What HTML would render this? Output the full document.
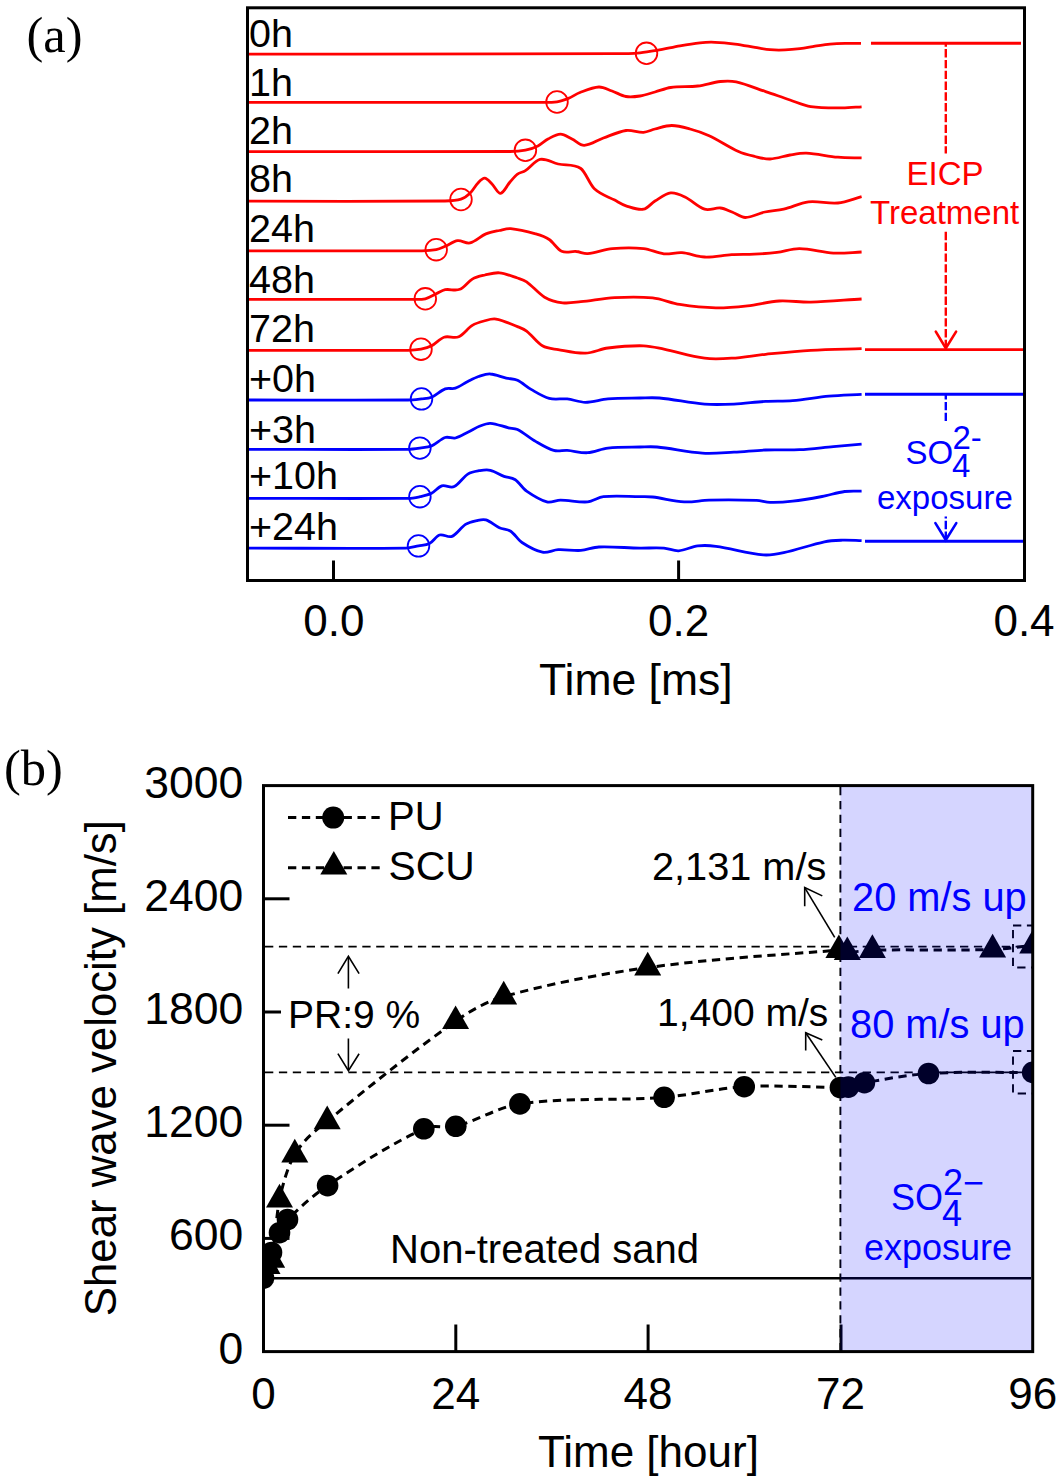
<!DOCTYPE html>
<html><head><meta charset="utf-8"><style>
html,body{margin:0;padding:0;background:#fff;}
svg{display:block;}
text{font-family:"Liberation Sans",sans-serif;}
.serif{font-family:"Liberation Serif",serif;}
</style></head><body>
<svg width="1062" height="1483" viewBox="0 0 1062 1483">
<rect width="1062" height="1483" fill="#fff"/>

<text class="serif" x="26.5" y="52" font-size="50.5">(a)</text>
<g fill="none" stroke-width="2.8" stroke-linejoin="round" stroke-linecap="butt">
<path stroke="#ff0000" d="M249.0 54.1 C371.0 54.0 493.0 54.1 615.0 53.7 C623.3 53.7 631.7 53.5 640.0 52.8 C645.7 52.4 651.3 51.4 657.0 50.4 C664.7 49.1 672.3 47.2 680.0 45.8 C686.7 44.6 693.3 43.5 700.0 42.8 C705.0 42.3 710.0 42.1 715.0 42.3 C721.7 42.5 728.3 43.2 735.0 44.1 C741.7 45.0 748.3 46.3 755.0 47.4 C760.0 48.2 765.0 49.3 770.0 49.7 C775.0 50.1 780.0 50.1 785.0 49.9 C790.0 49.7 795.0 49.2 800.0 48.6 C805.0 48.0 810.0 46.9 815.0 46.1 C820.0 45.4 825.0 44.6 830.0 44.1 C835.0 43.6 840.0 43.4 845.0 43.3 C850.3 43.2 855.7 43.4 861.0 43.4"/>
<path stroke="#ff0000" d="M249.0 102.3 C346.0 102.3 443.0 102.6 540.0 102.4 C545.7 102.4 551.3 102.6 557.0 101.8 C560.8 101.3 564.6 99.9 568.4 98.4 C572.3 96.8 576.1 93.9 580.0 92.5 C586.3 90.1 592.6 87.3 598.9 87.0 C603.3 86.8 607.6 89.5 612.0 91.0 C616.7 92.6 621.3 95.7 626.0 96.5 C630.7 97.3 635.3 96.7 640.0 96.0 C645.0 95.2 650.0 93.4 655.0 92.0 C660.2 90.6 665.5 88.2 670.7 87.5 C679.7 86.2 688.8 87.1 697.8 86.0 C705.3 85.1 712.9 82.3 720.4 81.5 C725.7 80.9 730.9 80.7 736.2 81.9 C746.0 84.1 755.8 88.3 765.6 91.6 C773.7 94.3 781.9 97.3 790.0 100.0 C796.9 102.3 803.9 105.6 810.8 106.6 C821.3 108.2 831.9 107.9 842.4 107.9 C848.8 107.9 855.2 107.2 861.6 106.8"/>
<path stroke="#ff0000" d="M249.0 151.6 C336.0 151.6 423.0 151.9 510.0 151.5 C515.1 151.5 520.3 151.2 525.4 150.2 C529.6 149.4 533.7 148.0 537.9 145.9 C541.3 144.2 544.6 140.8 548.0 139.0 C552.2 136.8 556.3 134.1 560.5 134.1 C564.3 134.1 568.2 137.2 572.0 139.0 C576.1 140.9 580.1 145.5 584.2 145.4 C590.6 145.2 597.0 140.3 603.4 138.0 C610.9 135.3 618.5 131.6 626.0 130.5 C631.9 129.7 637.7 132.6 643.6 132.3 C647.4 132.1 651.2 129.9 655.0 129.0 C660.6 127.6 666.2 125.5 671.8 125.5 C677.9 125.5 683.9 127.3 690.0 129.0 C696.4 130.7 702.7 132.7 709.1 135.7 C718.9 140.2 728.7 147.1 738.5 151.5 C744.0 154.0 749.5 155.2 755.0 156.5 C760.0 157.7 765.1 159.2 770.1 159.0 C776.7 158.7 783.4 156.1 790.0 155.0 C795.4 154.1 800.9 152.9 806.3 153.1 C816.8 153.6 827.4 156.3 837.9 157.2 C845.8 157.9 853.7 157.7 861.6 157.9"/>
<path stroke="#ff0000" d="M249.0 201.2 C314.3 201.1 379.7 201.6 445.0 201.0 C450.3 200.9 455.7 200.8 461.0 199.2 C464.0 198.3 467.0 196.2 470.0 193.3 C472.7 190.8 475.3 185.7 478.0 183.0 C480.2 180.7 482.5 178.0 484.7 178.2 C487.1 178.4 489.6 181.7 492.0 184.0 C494.9 186.7 497.7 193.6 500.6 193.3 C503.7 193.0 506.9 185.6 510.0 182.0 C512.5 179.2 515.0 175.9 517.5 174.1 C520.1 172.2 522.8 172.4 525.4 170.7 C530.3 167.5 535.2 160.4 540.1 159.4 C546.1 158.2 552.2 162.7 558.2 164.0 C565.7 165.7 573.3 163.3 580.8 168.5 C585.3 171.6 589.9 184.6 594.4 188.8 C601.2 195.1 607.9 196.5 614.7 200.1 C618.5 202.1 622.2 204.6 626.0 205.8 C631.9 207.6 637.7 210.2 643.6 209.2 C647.4 208.6 651.2 203.3 655.0 201.0 C660.2 197.9 665.5 193.6 670.7 192.9 C675.5 192.3 680.2 194.7 685.0 197.0 C691.5 200.1 698.1 207.2 704.6 209.2 C709.9 210.8 715.1 207.5 720.4 208.0 C724.3 208.4 728.1 210.5 732.0 212.0 C736.4 213.7 740.9 217.5 745.3 217.5 C751.9 217.5 758.4 213.4 765.0 212.0 C771.2 210.7 777.5 210.6 783.7 209.2 C792.0 207.3 800.2 202.8 808.5 201.9 C818.3 200.8 828.1 204.0 837.9 203.0 C845.8 202.2 853.7 198.8 861.6 196.7"/>
<path stroke="#ff0000" d="M249.0 250.8 C306.7 250.8 364.3 251.1 422.0 250.8 C426.7 250.8 431.5 250.6 436.2 249.7 C439.2 249.1 442.2 247.6 445.2 246.3 C449.3 244.6 453.5 241.3 457.6 240.7 C461.7 240.1 465.9 243.9 470.0 242.9 C475.3 241.6 480.6 236.1 485.9 233.9 C490.4 232.0 494.9 231.4 499.4 230.5 C503.2 229.7 506.9 228.3 510.7 228.7 C519.0 229.5 527.3 231.6 535.6 233.9 C540.1 235.2 544.7 236.5 549.2 239.5 C553.3 242.3 557.5 249.4 561.6 251.2 C566.5 253.4 571.4 251.0 576.3 251.5 C580.1 251.8 583.8 253.9 587.6 253.6 C595.9 252.9 604.1 249.3 612.4 248.6 C622.8 247.7 633.2 247.5 643.6 248.6 C650.4 249.3 657.1 253.1 663.9 253.8 C669.9 254.4 676.0 252.2 682.0 252.7 C689.5 253.3 697.1 256.7 704.6 257.0 C713.6 257.4 722.7 255.2 731.7 254.7 C739.2 254.3 746.8 254.6 754.3 254.2 C761.8 253.8 769.4 253.3 776.9 252.4 C784.4 251.5 792.0 248.5 799.5 248.6 C810.8 248.7 822.1 252.5 833.4 253.1 C842.8 253.6 852.2 252.4 861.6 252.0"/>
<path stroke="#ff0000" d="M249.0 299.4 C303.3 299.4 357.7 299.6 412.0 299.4 C416.4 299.4 420.9 299.8 425.3 298.8 C428.9 298.0 432.6 295.5 436.2 293.8 C439.2 292.4 442.2 290.3 445.2 289.7 C450.1 288.8 455.0 291.2 459.9 289.3 C464.0 287.7 468.2 281.5 472.3 279.1 C476.5 276.7 480.8 276.0 485.0 275.0 C489.8 273.9 494.6 272.4 499.4 272.8 C505.4 273.4 511.5 276.0 517.5 278.0 C520.5 279.0 523.6 279.7 526.6 281.8 C532.6 286.1 538.6 293.7 544.6 297.2 C550.6 300.7 556.7 302.1 562.7 302.8 C568.7 303.6 574.8 302.3 580.8 301.7 C592.1 300.6 603.4 298.2 614.7 297.6 C627.3 296.9 640.0 296.6 652.6 297.9 C661.6 298.8 670.7 303.0 679.7 304.4 C691.8 306.3 703.8 307.6 715.9 307.8 C726.4 308.0 737.0 306.9 747.5 305.8 C758.1 304.7 768.6 301.6 779.2 301.0 C789.7 300.4 800.3 302.4 810.8 302.1 C827.7 301.7 844.7 300.0 861.6 299.0"/>
<path stroke="#ff0000" d="M249.0 350.3 C302.0 350.3 355.0 350.6 408.0 350.3 C412.3 350.3 416.7 350.0 421.0 349.2 C424.5 348.5 428.1 347.6 431.6 345.8 C435.7 343.6 439.9 338.6 444.0 337.2 C448.9 335.5 453.9 338.8 458.8 336.7 C463.3 334.8 467.8 328.2 472.3 325.4 C476.2 323.0 480.1 322.0 484.0 321.0 C488.0 319.9 492.0 318.4 496.0 319.1 C503.2 320.3 510.3 323.8 517.5 326.6 C520.5 327.8 523.6 328.8 526.6 331.1 C531.9 335.2 537.1 342.7 542.4 345.8 C547.7 348.9 552.9 348.7 558.2 349.6 C567.2 351.2 576.3 353.5 585.3 353.2 C592.8 353.0 600.4 349.0 607.9 348.0 C619.8 346.5 631.7 345.5 643.6 345.8 C650.4 345.9 657.1 347.8 663.9 349.2 C677.5 352.0 691.0 356.4 704.6 358.2 C713.6 359.4 722.7 358.8 731.7 358.2 C743.0 357.5 754.3 355.4 765.6 354.3 C780.7 352.8 795.7 351.2 810.8 350.3 C827.7 349.3 844.7 349.2 861.6 348.7"/>
<path stroke="#0000ff" d="M249.0 400.0 C302.0 400.0 355.0 400.3 408.0 400.0 C412.5 400.0 417.0 399.4 421.5 398.9 C424.9 398.5 428.2 398.7 431.6 397.3 C436.1 395.4 440.7 390.6 445.2 388.9 C448.6 387.6 452.0 389.3 455.4 388.2 C459.5 386.8 463.7 383.6 467.8 381.5 C471.6 379.6 475.3 377.6 479.1 376.3 C482.9 375.1 486.6 373.7 490.4 374.0 C495.7 374.3 500.9 376.9 506.2 378.1 C510.0 379.0 513.7 378.6 517.5 380.3 C522.0 382.4 526.6 386.8 531.1 389.4 C537.1 392.8 543.2 396.8 549.2 398.4 C555.2 400.0 561.2 398.3 567.2 398.9 C573.2 399.6 579.3 402.3 585.3 402.3 C592.8 402.3 600.4 399.5 607.9 398.9 C618.6 398.1 629.3 398.2 640.0 398.0 C646.5 397.9 652.9 397.4 659.4 398.0 C674.5 399.4 689.5 402.9 704.6 404.1 C714.4 404.9 724.2 404.5 734.0 404.1 C744.5 403.6 755.1 402.0 765.6 401.4 C774.6 400.9 783.7 401.4 792.7 400.7 C804.8 399.7 816.8 397.3 828.9 396.2 C839.8 395.2 850.7 395.0 861.6 394.4"/>
<path stroke="#0000ff" d="M249.0 449.3 C302.0 449.3 355.0 449.7 408.0 449.3 C412.0 449.3 415.9 448.7 419.9 448.1 C423.8 447.5 427.7 447.5 431.6 445.9 C436.1 444.0 440.7 439.0 445.2 437.5 C448.6 436.4 452.0 438.8 455.4 438.0 C459.5 437.0 463.7 434.3 467.8 432.3 C471.9 430.3 475.9 427.6 480.0 426.0 C483.5 424.6 486.9 423.1 490.4 423.3 C496.4 423.7 502.5 426.4 508.5 427.8 C511.5 428.5 514.5 428.1 517.5 429.6 C523.5 432.6 529.6 437.9 535.6 441.4 C541.6 444.9 547.7 448.7 553.7 450.4 C558.2 451.7 562.7 450.1 567.2 450.4 C574.0 450.9 580.8 453.1 587.6 452.7 C594.4 452.3 601.1 448.8 607.9 448.1 C618.6 446.9 629.3 447.2 640.0 447.0 C645.7 446.9 651.4 446.4 657.1 447.0 C672.2 448.5 687.2 452.1 702.3 453.1 C712.9 453.8 723.4 452.7 734.0 452.2 C744.5 451.7 755.1 450.4 765.6 450.0 C776.9 449.6 788.2 450.3 799.5 449.7 C810.8 449.1 822.1 447.6 833.4 446.6 C842.8 445.8 852.2 444.9 861.6 444.1"/>
<path stroke="#0000ff" d="M249.0 498.3 C302.0 498.3 355.0 498.8 408.0 498.3 C412.0 498.3 415.9 497.5 419.9 496.7 C423.8 495.9 427.7 495.2 431.6 493.3 C435.0 491.6 438.4 486.9 441.8 485.9 C445.9 484.7 450.1 488.5 454.2 486.6 C458.7 484.5 463.3 477.0 467.8 474.1 C471.6 471.7 475.3 471.3 479.1 470.7 C482.9 470.1 486.6 469.4 490.4 470.3 C494.9 471.3 499.5 474.7 504.0 476.4 C507.8 477.8 511.5 477.4 515.3 479.8 C519.1 482.3 522.8 488.5 526.6 491.1 C533.4 495.8 540.1 500.1 546.9 501.9 C551.4 503.1 556.0 500.1 560.5 500.1 C569.5 500.1 578.6 502.6 587.6 501.9 C592.9 501.5 598.1 497.2 603.4 496.7 C615.6 495.5 627.8 496.6 640.0 496.7 C644.2 496.7 648.4 496.5 652.6 497.0 C663.1 498.2 673.7 501.3 684.2 501.9 C692.5 502.4 700.8 500.3 709.1 500.1 C724.9 499.8 740.8 499.8 756.6 500.4 C761.1 500.6 765.6 502.3 770.1 502.4 C777.6 502.6 785.2 502.1 792.7 501.2 C802.5 500.1 812.3 498.3 822.1 496.5 C829.6 495.1 837.2 492.5 844.7 491.5 C850.3 490.7 856.0 491.2 861.6 491.1"/>
<path stroke="#0000ff" d="M249.0 548.1 C301.3 548.1 353.7 548.8 406.0 548.1 C410.2 548.0 414.3 546.7 418.5 545.9 C422.1 545.2 425.8 545.5 429.4 543.6 C432.8 541.9 436.1 536.1 439.5 535.0 C443.7 533.7 447.8 538.1 452.0 536.4 C456.5 534.6 461.0 527.3 465.5 524.4 C469.3 522.0 473.0 521.4 476.8 520.6 C479.8 519.9 482.9 518.9 485.9 519.9 C490.4 521.3 494.9 525.7 499.4 527.8 C503.2 529.5 506.9 528.8 510.7 531.2 C514.5 533.7 518.2 540.0 522.0 542.5 C528.8 547.0 535.6 550.8 542.4 552.2 C547.7 553.2 552.9 549.9 558.2 549.7 C565.7 549.3 573.3 550.9 580.8 550.4 C586.8 550.0 592.9 547.2 598.9 547.0 C612.6 546.5 626.3 547.9 640.0 548.1 C648.0 548.2 655.9 547.5 663.9 548.1 C668.8 548.4 673.7 551.1 678.6 550.8 C685.0 550.4 691.4 546.7 697.8 545.9 C703.8 545.2 709.9 545.5 715.9 546.3 C731.7 548.5 747.5 553.4 763.3 554.9 C770.1 555.5 776.9 554.2 783.7 552.7 C797.3 549.8 810.8 544.7 824.4 541.8 C830.4 540.5 836.4 540.4 842.4 540.2 C848.8 540.0 855.2 540.5 861.6 540.7"/>
</g>
<g fill="none" stroke-width="1.8">
<circle cx="646.5" cy="53.3" r="10.8" stroke="#ff0000"/>
<circle cx="557.0" cy="102.0" r="10.8" stroke="#ff0000"/>
<circle cx="525.4" cy="150.3" r="10.8" stroke="#ff0000"/>
<circle cx="461.0" cy="199.5" r="10.8" stroke="#ff0000"/>
<circle cx="436.2" cy="249.7" r="10.8" stroke="#ff0000"/>
<circle cx="425.3" cy="298.8" r="10.8" stroke="#ff0000"/>
<circle cx="421.0" cy="349.2" r="10.8" stroke="#ff0000"/>
<circle cx="421.5" cy="398.9" r="10.8" stroke="#0000ff"/>
<circle cx="419.9" cy="448.1" r="10.8" stroke="#0000ff"/>
<circle cx="419.9" cy="496.7" r="10.8" stroke="#0000ff"/>
<circle cx="418.5" cy="545.9" r="10.8" stroke="#0000ff"/>
</g>
<g stroke-width="2.9">
<line x1="871" y1="43.2" x2="1021" y2="43.2" stroke="#ff0000"/>
<line x1="865" y1="349.6" x2="1024" y2="349.6" stroke="#ff0000"/>
<line x1="865" y1="394.2" x2="1024" y2="394.2" stroke="#0000ff"/>
<line x1="865" y1="541.2" x2="1024" y2="541.2" stroke="#0000ff"/>
</g>
<g stroke-width="2.4" fill="none" stroke-linecap="butt">
<line x1="945.8" y1="42" x2="945.8" y2="153.5" stroke="#ff0000" stroke-dasharray="8.4 2.4" stroke-dashoffset="3.7"/>
<line x1="945.8" y1="231.8" x2="945.8" y2="347" stroke="#ff0000" stroke-dasharray="8.4 2.4"/>
<polyline points="935.8,331.6 945.8,348.2 956.1,331.6" stroke="#ff0000" stroke-width="2.6" stroke-linecap="round"/>
<line x1="945.8" y1="393.5" x2="945.8" y2="421.4" stroke="#0000ff" stroke-dasharray="8.4 2.4" stroke-dashoffset="2.4"/>
<line x1="945.8" y1="516.5" x2="945.8" y2="539.5" stroke="#0000ff" stroke-dasharray="8.4 2.4" stroke-dashoffset="6.5"/>
<polyline points="935.4,523.1 945.8,540 956.3,523.1" stroke="#0000ff" stroke-width="2.6" stroke-linecap="round"/>
</g>
<text x="906.5" y="185" font-size="33" fill="#ff0000">EICP</text>
<text x="870" y="223.6" font-size="33" fill="#ff0000">Treatment</text>
<text x="905.5" y="463.6" font-size="33" fill="#0000ff">SO</text>
<text x="952.5" y="448.8" font-size="33" fill="#0000ff">2-</text>
<text x="952" y="476.8" font-size="33" fill="#0000ff">4</text>
<text x="877" y="508.9" font-size="33" fill="#0000ff">exposure</text>
<text x="249" y="47.1" font-size="39.5">0h</text>
<text x="249" y="96.1" font-size="39.5">1h</text>
<text x="249" y="144.3" font-size="39.5">2h</text>
<text x="249" y="192.0" font-size="39.5">8h</text>
<text x="249" y="241.9" font-size="39.5">24h</text>
<text x="249" y="292.7" font-size="39.5">48h</text>
<text x="249" y="341.7" font-size="39.5">72h</text>
<text x="249" y="392.1" font-size="39.5">+0h</text>
<text x="249" y="442.5" font-size="39.5">+3h</text>
<text x="249" y="489.2" font-size="39.5">+10h</text>
<text x="249" y="540.4" font-size="39.5">+24h</text>
<rect x="247.5" y="7.8" width="777" height="572.7" fill="none" stroke="#000" stroke-width="3"/>
<g stroke="#000" stroke-width="3">
<line x1="333.5" y1="579" x2="333.5" y2="560.5"/>
<line x1="678.6" y1="579" x2="678.6" y2="560.5"/>
</g>
<text x="333.8" y="635.6" font-size="44" text-anchor="middle">0.0</text>
<text x="678.6" y="635.6" font-size="44" text-anchor="middle">0.2</text>
<text x="1024" y="635.6" font-size="44" text-anchor="middle">0.4</text>
<text x="539" y="695.1" font-size="44.5">Time [ms]</text>
<text class="serif" x="4" y="785.2" font-size="50.5">(b)</text>
<g stroke="#000" stroke-width="1.9" stroke-dasharray="8.3 5.6" fill="none">
<line x1="265" y1="946.6" x2="1031" y2="946.6"/>
<line x1="265" y1="1072.4" x2="1031" y2="1072.4"/>
<line x1="840.4" y1="787" x2="840.4" y2="1350"/>
<rect x="1013" y="925.5" width="20" height="42" />
<rect x="1013" y="1051" width="20" height="42.5" />
</g>
<line x1="265" y1="1278.2" x2="1031" y2="1278.2" stroke="#000" stroke-width="2.6"/>
<defs><clipPath id="clipb"><rect x="263.5" y="785.6" width="769.2" height="566"/></clipPath></defs>
<g clip-path="url(#clipb)">
<g fill="none" stroke="#000" stroke-width="3" stroke-dasharray="8.3 5.6">
<path d="M263.5 1278.0 C266.2 1269.5 268.8 1260.1 271.5 1252.5 C274.2 1245.0 276.9 1238.2 279.5 1232.7 C282.2 1227.2 284.9 1222.2 287.5 1219.5 C300.9 1206.4 314.2 1194.5 327.6 1185.6 C359.7 1164.2 391.7 1143.6 423.8 1128.8 C434.4 1123.8 445.1 1129.1 455.8 1126.3 C477.2 1120.8 498.5 1106.9 519.9 1103.9 C568.0 1097.2 616.0 1101.0 664.1 1097.3 C690.8 1095.2 717.5 1088.2 744.2 1086.7 C776.3 1084.9 808.4 1087.3 840.4 1087.5 C843.1 1087.5 845.7 1087.6 848.4 1087.1 C853.8 1086.0 859.1 1083.7 864.4 1082.7 C885.8 1079.1 907.2 1074.8 928.5 1073.5 C963.3 1071.4 998.0 1072.7 1032.7 1072.4"/>
<path d="M264.5 1262.0 C265.3 1263.3 266.2 1266.3 267.0 1266.0 C268.6 1265.5 270.1 1268.1 271.7 1259.8 C274.3 1246.0 276.9 1211.4 279.5 1199.5 C284.6 1176.3 289.7 1162.9 294.8 1154.5 C305.6 1136.8 316.4 1130.3 327.2 1121.3 C370.0 1085.8 412.8 1051.4 455.6 1021.2 C471.6 1009.9 487.7 1001.1 503.7 996.6 C551.7 983.2 599.7 974.2 647.7 967.6 C711.4 958.8 775.2 955.1 838.9 950.2 C841.7 950.0 844.5 952.2 847.3 952.2 C855.7 952.2 864.0 950.3 872.4 950.1 C912.5 949.4 952.5 950.6 992.6 949.5 C1006.0 949.1 1019.3 946.8 1032.7 945.5"/>
</g>
<g fill="#000">
<circle cx="263.5" cy="1278.0" r="10.8"/>
<circle cx="271.5" cy="1252.5" r="10.8"/>
<circle cx="279.5" cy="1232.7" r="10.8"/>
<circle cx="287.5" cy="1219.5" r="10.8"/>
<circle cx="327.6" cy="1185.6" r="10.8"/>
<circle cx="423.8" cy="1128.8" r="10.8"/>
<circle cx="455.8" cy="1126.3" r="10.8"/>
<circle cx="519.9" cy="1103.9" r="10.8"/>
<circle cx="664.1" cy="1097.3" r="10.8"/>
<circle cx="744.2" cy="1086.7" r="10.8"/>
<circle cx="840.4" cy="1087.5" r="10.8"/>
<circle cx="848.4" cy="1087.1" r="10.8"/>
<circle cx="864.4" cy="1082.7" r="10.8"/>
<circle cx="928.5" cy="1073.5" r="10.8"/>
<circle cx="1032.7" cy="1072.4" r="10.8"/>
<path d="M264.5 1246.2L278.0 1269.9L251.0 1269.9Z"/>
<path d="M267.0 1250.2L280.5 1273.9L253.5 1273.9Z"/>
<path d="M271.7 1244.0L285.2 1267.7L258.2 1267.7Z"/>
<path d="M279.5 1183.7L293.0 1207.4L266.0 1207.4Z"/>
<path d="M294.8 1138.7L308.3 1162.4L281.3 1162.4Z"/>
<path d="M327.2 1105.5L340.7 1129.2L313.7 1129.2Z"/>
<path d="M455.6 1005.4L469.1 1029.1L442.1 1029.1Z"/>
<path d="M503.7 980.8L517.2 1004.5L490.2 1004.5Z"/>
<path d="M647.7 951.8L661.2 975.5L634.2 975.5Z"/>
<path d="M838.9 934.4L852.4 958.1L825.4 958.1Z"/>
<path d="M847.3 936.4L860.8 960.1L833.8 960.1Z"/>
<path d="M872.4 934.3L885.9 958.0L858.9 958.0Z"/>
<path d="M992.6 933.7L1006.1 957.4L979.1 957.4Z"/>
<path d="M1032.7 929.7L1046.2 953.4L1019.2 953.4Z"/>
</g>
</g>
<line x1="841" y1="1351" x2="841" y2="1324.5" stroke="#000" stroke-width="3"/>
<rect x="840.4" y="785.6" width="192.3" height="566" fill="#0000ff" fill-opacity="0.165"/>
<g stroke="#000" stroke-width="3" stroke-dasharray="8.3 5.6" fill="none">
<line x1="288" y1="817.6" x2="380" y2="817.6"/>
<line x1="288" y1="867.7" x2="380" y2="867.7"/>
</g>
<circle cx="333.2" cy="817.6" r="11" fill="#000"/>
<path d="M333.8 850.9L347.3 874.6L320.3 874.6Z" fill="#000"/>
<text x="388" y="830.4" font-size="40">PU</text>
<text x="388.5" y="880.1" font-size="40.8">SCU</text>
<g stroke="#000" stroke-width="1.6" fill="none">
<line x1="348.4" y1="988.5" x2="348.4" y2="957"/>
<polyline points="337.9,973.7 348.4,956.3 359.1,973.7"/>
<line x1="348.4" y1="1038.5" x2="348.4" y2="1070"/>
<polyline points="337.9,1053.7 348.4,1070.7 359.1,1053.7"/>
<line x1="834.7" y1="937.4" x2="804.7" y2="887.6"/>
<polyline points="804.7,906.3 804.7,887.6 822.3,895.9"/>
<line x1="835.8" y1="1077.4" x2="805.7" y2="1032.8"/>
<polyline points="805.7,1050.4 805.7,1032.8 822.3,1040.1"/>
</g>
<rect x="284" y="995" width="140" height="38" fill="#fff"/>
<text x="288" y="1028" font-size="39">PR:9 %</text>
<text x="652" y="880.4" font-size="39.7">2,131 m/s</text>
<text x="657" y="1026" font-size="39">1,400 m/s</text>
<text x="852" y="910.8" font-size="39.8" fill="#0000ff">20 m/s up</text>
<text x="850" y="1037.6" font-size="39.8" fill="#0000ff">80 m/s up</text>
<text x="390" y="1263.2" font-size="40">Non-treated sand</text>
<text x="891" y="1210" font-size="36" fill="#0000ff">SO</text>
<text x="943" y="1195.4" font-size="36" fill="#0000ff">2−</text>
<text x="942" y="1225.7" font-size="36" fill="#0000ff">4</text>
<text x="864" y="1259.6" font-size="36" fill="#0000ff">exposure</text>
<rect x="263.5" y="785.6" width="769.2" height="566" fill="none" stroke="#000" stroke-width="3"/>
<g stroke="#000" stroke-width="3">
<line x1="263.5" y1="1238.4" x2="289.5" y2="1238.4"/>
<line x1="263.5" y1="1125.2" x2="289.5" y2="1125.2"/>
<line x1="263.5" y1="1012.0" x2="281.0" y2="1012.0"/>
<line x1="263.5" y1="898.8" x2="289.5" y2="898.8"/>
<line x1="455.8" y1="1351" x2="455.8" y2="1324.5"/>
<line x1="648.1" y1="1351" x2="648.1" y2="1324.5"/>
</g>
<text x="243.3" y="1363.6" font-size="44.5" text-anchor="end">0</text>
<text x="243.3" y="1250.4" font-size="44.5" text-anchor="end">600</text>
<text x="243.3" y="1137.2" font-size="44.5" text-anchor="end">1200</text>
<text x="243.3" y="1024.0" font-size="44.5" text-anchor="end">1800</text>
<text x="243.3" y="910.8" font-size="44.5" text-anchor="end">2400</text>
<text x="243.3" y="797.6" font-size="44.5" text-anchor="end">3000</text>
<text x="263.5" y="1408.5" font-size="44" text-anchor="middle">0</text>
<text x="455.8" y="1408.5" font-size="44" text-anchor="middle">24</text>
<text x="648.1" y="1408.5" font-size="44" text-anchor="middle">48</text>
<text x="840.4" y="1408.5" font-size="44" text-anchor="middle">72</text>
<text x="1032.7" y="1408.5" font-size="44" text-anchor="middle">96</text>
<text x="538" y="1466.5" font-size="44">Time [hour]</text>
<text transform="translate(116,1068.2) rotate(-90)" font-size="43.75" text-anchor="middle">Shear wave velocity [m/s]</text>
</svg></body></html>
